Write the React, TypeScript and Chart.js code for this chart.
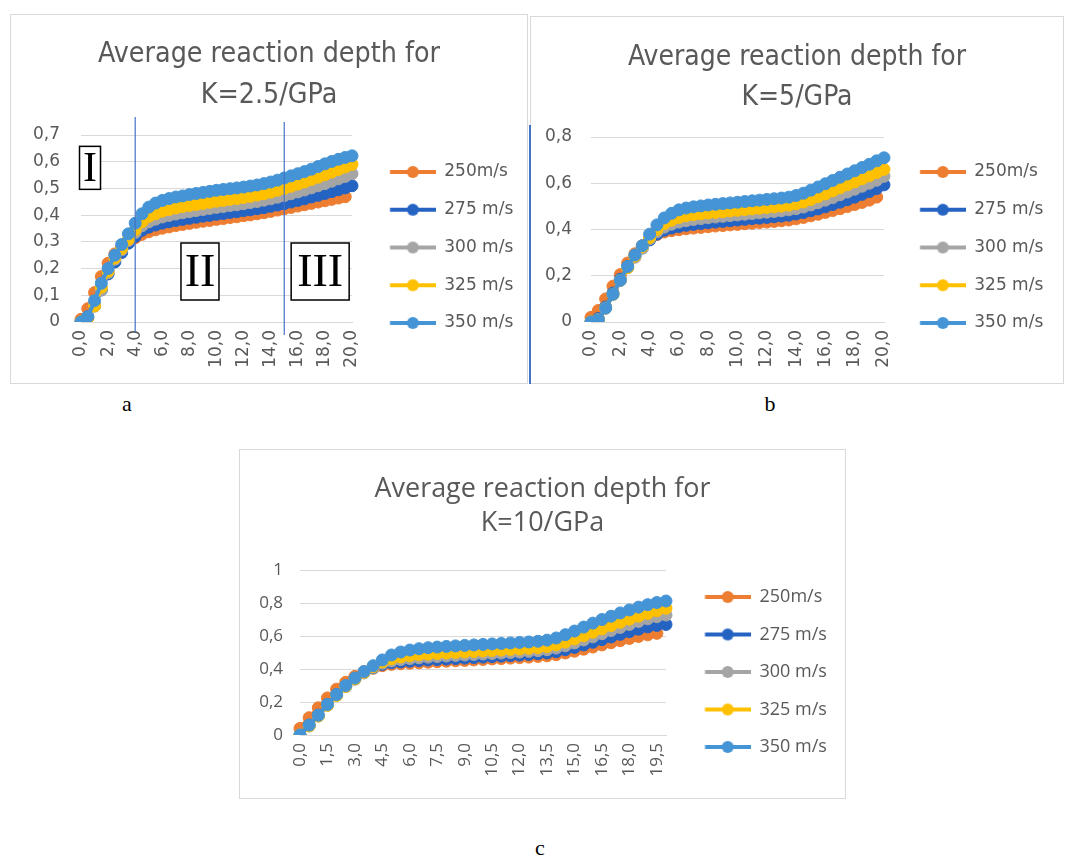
import React, { useEffect, useRef } from 'react';
import { Chart, registerables } from 'chart.js';

Chart.register(...registerables);

// time axis (same categories in all three panels)
const timeLabels = [
  '0,0', '0,5', '1,0', '1,5', '2,0', '2,5', '3,0', '3,5', '4,0', '4,5',
  '5,0', '5,5', '6,0', '6,5', '7,0', '7,5', '8,0', '8,5', '9,0', '9,5',
  '10,0', '10,5', '11,0', '11,5', '12,0', '12,5', '13,0', '13,5', '14,0', '14,5',
  '15,0', '15,5', '16,0', '16,5', '17,0', '17,5', '18,0', '18,5', '19,0', '19,5', '20,0',
];
const seriesNames = ['250m/s', '275 m/s', '300 m/s', '325 m/s', '350 m/s'];
const seriesColors = ['#ED7D31', '#2563C3', '#A5A5A5', '#FFC000', '#4494D6'];

// K = 2.5/GPa
const k25v250 = [0.01, 0.05, 0.11, 0.17, 0.22, 0.255, 0.28, 0.3, 0.315, 0.328, 0.338, 0.345, 0.351, 0.356, 0.361, 0.365, 0.369, 0.373, 0.377, 0.38, 0.384, 0.387, 0.391, 0.394, 0.398, 0.401, 0.405, 0.409, 0.414, 0.419, 0.424, 0.429, 0.434, 0.439, 0.444, 0.449, 0.454, 0.459, 0.464, 0.469];
const k25v275 = [0, 0.02, 0.06, 0.12, 0.18, 0.225, 0.26, 0.295, 0.32, 0.343, 0.355, 0.363, 0.37, 0.375, 0.38, 0.384, 0.388, 0.392, 0.396, 0.399, 0.403, 0.406, 0.41, 0.413, 0.417, 0.42, 0.424, 0.428, 0.433, 0.438, 0.443, 0.449, 0.455, 0.461, 0.468, 0.474, 0.481, 0.488, 0.495, 0.502, 0.51];
const k25v300 = [0, 0.015, 0.065, 0.12, 0.185, 0.235, 0.27, 0.305, 0.335, 0.36, 0.375, 0.385, 0.393, 0.399, 0.404, 0.409, 0.413, 0.417, 0.421, 0.425, 0.429, 0.432, 0.436, 0.439, 0.443, 0.447, 0.451, 0.456, 0.461, 0.467, 0.473, 0.48, 0.487, 0.494, 0.502, 0.51, 0.518, 0.527, 0.536, 0.545, 0.555];
const k25v325 = [0, 0.015, 0.06, 0.13, 0.19, 0.24, 0.275, 0.31, 0.345, 0.375, 0.395, 0.405, 0.415, 0.421, 0.427, 0.432, 0.436, 0.44, 0.444, 0.448, 0.452, 0.455, 0.459, 0.462, 0.466, 0.47, 0.475, 0.48, 0.486, 0.493, 0.5, 0.508, 0.516, 0.524, 0.533, 0.542, 0.551, 0.561, 0.571, 0.58, 0.59];
const k25v350 = [0, 0.02, 0.08, 0.145, 0.2, 0.25, 0.29, 0.33, 0.37, 0.405, 0.43, 0.445, 0.455, 0.462, 0.468, 0.472, 0.477, 0.481, 0.485, 0.489, 0.493, 0.496, 0.499, 0.502, 0.505, 0.509, 0.513, 0.518, 0.524, 0.531, 0.539, 0.547, 0.555, 0.563, 0.572, 0.582, 0.592, 0.601, 0.609, 0.616, 0.622];

// K = 5/GPa
const k5v250 = [0.02, 0.05, 0.1, 0.155, 0.205, 0.255, 0.295, 0.33, 0.36, 0.378, 0.389, 0.395, 0.399, 0.403, 0.406, 0.409, 0.412, 0.415, 0.417, 0.42, 0.422, 0.425, 0.427, 0.43, 0.432, 0.435, 0.438, 0.441, 0.446, 0.452, 0.459, 0.466, 0.474, 0.482, 0.49, 0.499, 0.508, 0.517, 0.527, 0.54];
const k5v275 = [0, 0.015, 0.065, 0.125, 0.185, 0.24, 0.285, 0.32, 0.355, 0.38, 0.397, 0.406, 0.413, 0.418, 0.422, 0.426, 0.429, 0.432, 0.435, 0.438, 0.441, 0.444, 0.447, 0.449, 0.452, 0.455, 0.458, 0.462, 0.467, 0.473, 0.481, 0.489, 0.498, 0.508, 0.518, 0.529, 0.54, 0.552, 0.564, 0.577, 0.593];
const k5v300 = [0, 0.01, 0.06, 0.12, 0.18, 0.235, 0.28, 0.32, 0.36, 0.39, 0.41, 0.423, 0.432, 0.438, 0.443, 0.447, 0.451, 0.454, 0.457, 0.46, 0.463, 0.466, 0.469, 0.472, 0.475, 0.478, 0.481, 0.485, 0.49, 0.497, 0.506, 0.516, 0.527, 0.538, 0.55, 0.562, 0.574, 0.587, 0.6, 0.613, 0.63];
const k5v325 = [0, 0.01, 0.06, 0.12, 0.18, 0.235, 0.285, 0.325, 0.365, 0.4, 0.425, 0.44, 0.452, 0.459, 0.464, 0.468, 0.471, 0.474, 0.477, 0.48, 0.483, 0.486, 0.489, 0.492, 0.495, 0.498, 0.501, 0.505, 0.511, 0.519, 0.53, 0.542, 0.554, 0.567, 0.58, 0.593, 0.606, 0.619, 0.632, 0.646, 0.66];
const k5v350 = [0, 0.01, 0.06, 0.12, 0.18, 0.24, 0.29, 0.33, 0.38, 0.42, 0.45, 0.47, 0.485, 0.493, 0.498, 0.502, 0.506, 0.509, 0.512, 0.515, 0.518, 0.521, 0.524, 0.527, 0.53, 0.533, 0.536, 0.54, 0.547, 0.557, 0.57, 0.584, 0.598, 0.612, 0.626, 0.64, 0.654, 0.668, 0.682, 0.697, 0.71];

// K = 10/GPa
const k10v250 = [0.04, 0.105, 0.165, 0.225, 0.278, 0.32, 0.355, 0.383, 0.405, 0.42, 0.428, 0.432, 0.435, 0.438, 0.441, 0.444, 0.447, 0.45, 0.452, 0.455, 0.458, 0.461, 0.463, 0.466, 0.469, 0.472, 0.476, 0.48, 0.487, 0.497, 0.508, 0.52, 0.533, 0.546, 0.559, 0.572, 0.585, 0.597, 0.607, 0.616];
const k10v275 = [0, 0.06, 0.12, 0.185, 0.245, 0.297, 0.34, 0.377, 0.407, 0.428, 0.438, 0.443, 0.447, 0.451, 0.454, 0.457, 0.46, 0.463, 0.466, 0.469, 0.472, 0.475, 0.478, 0.481, 0.484, 0.488, 0.492, 0.497, 0.505, 0.517, 0.531, 0.546, 0.562, 0.578, 0.594, 0.61, 0.626, 0.641, 0.655, 0.664, 0.67];
const k10v300 = [0, 0.055, 0.115, 0.18, 0.24, 0.293, 0.338, 0.377, 0.41, 0.435, 0.449, 0.457, 0.463, 0.468, 0.472, 0.476, 0.479, 0.482, 0.485, 0.488, 0.491, 0.494, 0.497, 0.5, 0.503, 0.507, 0.511, 0.517, 0.527, 0.541, 0.558, 0.576, 0.595, 0.614, 0.633, 0.652, 0.67, 0.688, 0.704, 0.717, 0.727];
const k10v325 = [0, 0.055, 0.115, 0.18, 0.24, 0.295, 0.34, 0.38, 0.415, 0.443, 0.462, 0.473, 0.48, 0.486, 0.49, 0.494, 0.497, 0.5, 0.503, 0.506, 0.509, 0.512, 0.515, 0.518, 0.521, 0.525, 0.529, 0.536, 0.547, 0.563, 0.582, 0.602, 0.623, 0.643, 0.663, 0.683, 0.702, 0.72, 0.737, 0.753, 0.768];
const k10v350 = [0, 0.06, 0.12, 0.185, 0.245, 0.3, 0.345, 0.385, 0.42, 0.455, 0.485, 0.503, 0.515, 0.523, 0.529, 0.533, 0.537, 0.54, 0.543, 0.546, 0.549, 0.552, 0.555, 0.558, 0.561, 0.564, 0.568, 0.575, 0.588, 0.608, 0.63, 0.654, 0.678, 0.7, 0.72, 0.74, 0.758, 0.775, 0.79, 0.803, 0.812];

// stage markers drawn on panel a (category index / y value)
const regionDividers = [
  { at: 8, above: 18, below: 10 },
  { at: 30, above: 13, below: 13 },
];
const regionMarks = [
  { text: 'I', at: 1.33, level: 0.577, w: 21, h: 43, size: 42 },
  { text: 'II', at: 17.56, level: 0.189, w: 38, h: 57, size: 46 },
  { text: 'III', at: 35.3, level: 0.189, w: 58, h: 57, size: 46 },
];

const textColor = '#595959';
const gridColor = '#d9d9d9';
const narrow = '"Liberation Sans Narrow", "DejaVu Sans Condensed", sans-serif';
const plain = '"DejaVu Sans", sans-serif';
const wide = '"Open Sans", "Noto Sans", sans-serif';

type PanelSpec = {
  caption: string;
  frame: number[]; // left, top, width, height (page px)
  plot: number[]; // left, top, right, bottom (page px)
  title: string[];
  titleCenterY: number;
  titleLine: number;
  titleWidth: number;
  titleFamily: string;
  tickFamily: string;
  tickSize: number;
  yLabelRight: number;
  yMax: number;
  yStep: number;
  labelEvery: number;
  legendFirstY: number;
  legendStep: number;
  legendSize: number;
  swatch: number[];
  radius: number;
  lineWidth: number;
  series: number[][];
  regions?: boolean;
};

const panels: PanelSpec[] = [
  {
    caption: 'a', frame: [10, 14, 518, 370], plot: [81, 135, 352, 322],
    title: ['Average reaction depth for', 'K=2.5/GPa'], titleCenterY: 55, titleLine: 41, titleWidth: 342,
    titleFamily: narrow, tickFamily: plain, tickSize: 17, yLabelRight: 60,
    yMax: 0.7, yStep: 0.1, labelEvery: 4,
    legendFirstY: 172, legendStep: 37.75, legendSize: 17, swatch: [390, 436],
    radius: 6, lineWidth: 4,
    series: [k25v250, k25v275, k25v300, k25v325, k25v350], regions: true,
  },
  {
    caption: 'b', frame: [530, 16, 534, 368], plot: [591, 137, 884, 322],
    title: ['Average reaction depth for', 'K=5/GPa'], titleCenterY: 58, titleLine: 40, titleWidth: 338,
    titleFamily: narrow, tickFamily: plain, tickSize: 17, yLabelRight: 572,
    yMax: 0.8, yStep: 0.2, labelEvery: 4,
    legendFirstY: 172, legendStep: 37.75, legendSize: 17, swatch: [920, 966],
    radius: 6, lineWidth: 4,
    series: [k5v250, k5v275, k5v300, k5v325, k5v350],
  },
  {
    caption: 'c', frame: [239, 449, 607, 350], plot: [300, 570, 666, 735],
    title: ['Average reaction depth for', 'K=10/GPa'], titleCenterY: 489, titleLine: 34, titleWidth: 336,
    titleFamily: wide, tickFamily: wide, tickSize: 17, yLabelRight: 283,
    yMax: 1, yStep: 0.2, labelEvery: 3,
    legendFirstY: 597, legendStep: 37.5, legendSize: 18, swatch: [705, 750],
    radius: 6, lineWidth: 4,
    series: [k10v250, k10v275, k10v300, k10v325, k10v350],
  },
];

const formatTick = (v: number | string) => {
  const n = Number(v);
  return Number.isInteger(n) ? String(n) : n.toFixed(1).replace('.', ',');
};

function makeSwatch(color: string, width: number, start: number, radius: number, lineWidth: number) {
  const c = document.createElement('canvas');
  c.width = width;
  c.height = 16;
  const g = c.getContext('2d')!;
  g.strokeStyle = color;
  g.lineWidth = lineWidth;
  g.beginPath();
  g.moveTo(start, 8);
  g.lineTo(width, 8);
  g.stroke();
  g.fillStyle = color;
  g.beginPath();
  g.arc((start + width) / 2, 8, radius, 0, Math.PI * 2);
  g.fill();
  return c;
}

const regionPlugin = {
  id: 'regions',
  afterDatasetsDraw(chart: any) {
    const { ctx, chartArea, scales } = chart;
    const x = scales.x;
    const y = scales.y;
    ctx.save();
    ctx.strokeStyle = '#4472C4';
    ctx.lineWidth = 1.2;
    regionDividers.forEach((d) => {
      const px = x.getPixelForValue(d.at);
      ctx.beginPath();
      ctx.moveTo(px, chartArea.top - d.above);
      ctx.lineTo(px, chartArea.bottom + d.below);
      ctx.stroke();
    });
    regionMarks.forEach((m) => {
      const cx = x.getPixelForValue(m.at);
      const cy = y.getPixelForValue(m.level);
      ctx.fillStyle = '#fff';
      ctx.fillRect(cx - m.w / 2, cy - m.h / 2, m.w, m.h);
      ctx.strokeStyle = '#000';
      ctx.lineWidth = 1.5;
      ctx.strokeRect(cx - m.w / 2, cy - m.h / 2, m.w, m.h);
      ctx.fillStyle = '#000';
      ctx.font = `${m.size}px "Liberation Serif", "DejaVu Serif", serif`;
      ctx.textAlign = 'center';
      ctx.textBaseline = 'middle';
      ctx.fillText(m.text, cx, cy + 2);
    });
    ctx.restore();
  },
};

function Panel({ spec }: { spec: PanelSpec }) {
  const canvasRef = useRef<HTMLCanvasElement>(null);
  const [fl, ft, fw, fh] = spec.frame;
  const cw = fw - 2;
  const ch = fh - 2;

  useEffect(() => {
    const canvas = canvasRef.current;
    if (!canvas) return;
    const ox = fl + 1;
    const oy = ft + 1;
    const left = spec.plot[0] - ox;
    const top = spec.plot[1] - oy;
    const right = spec.plot[2] - ox;
    const bottom = spec.plot[3] - oy;

    const fs = spec.legendSize;
    const gap = spec.legendStep - fs;
    const itemX = right + gap;
    const swStart = spec.swatch[0] - ox - itemX;
    const swWidth = Math.round(spec.swatch[1] - ox - itemX);

    const measure = document.createElement('canvas').getContext('2d')!;
    measure.font = `${fs}px ${spec.tickFamily}`;
    const textW = Math.max(...seriesNames.map((n) => measure.measureText(n).width));
    // equal side padding keeps the title centred on the frame
    const side = cw - right - (gap + swWidth + fs / 2 + textW + 10);
    measure.font = `100px ${spec.titleFamily}`;
    const titleSize = (100 * spec.titleWidth) / measure.measureText(spec.title[0]).width;
    const titlePadTop = spec.titleCenterY - oy - spec.titleLine / 2;
    const titlePadBottom = top - titlePadTop - spec.titleLine * spec.title.length;
    const legendSpacer = spec.legendFirstY - oy - gap - fs / 2;

    const swatches = seriesColors.map((c) => makeSwatch(c, swWidth, swStart, spec.radius, spec.lineWidth));
    const tickFont = { family: spec.tickFamily, size: spec.tickSize };

    const chart = new Chart(canvas, {
      type: 'line',
      data: {
        labels: timeLabels,
        datasets: spec.series.map((data, i) => ({
          label: seriesNames[i],
          data,
          borderColor: seriesColors[i],
          backgroundColor: seriesColors[i],
          borderWidth: spec.lineWidth,
          pointRadius: spec.radius,
          pointBorderWidth: 1,
          pointBackgroundColor: seriesColors[i],
          pointBorderColor: seriesColors[i],
          tension: 0,
          order: seriesNames.length - i,
        })),
      },
      options: {
        responsive: false,
        animation: false,
        layout: { padding: { left: side, right: side, top: 0, bottom: 0 } },
        plugins: {
          title: {
            display: true,
            text: spec.title,
            color: textColor,
            font: { family: spec.titleFamily, size: titleSize, weight: 'normal', lineHeight: `${spec.titleLine}px` },
            padding: { top: titlePadTop, bottom: titlePadBottom },
          },
          legend: {
            position: 'right',
            align: 'start',
            maxWidth: 400,
            title: { display: true, text: ' ', font: { size: 1, lineHeight: 1 }, padding: { top: legendSpacer - 1, bottom: 0 } },
            labels: {
              usePointStyle: true,
              pointStyleWidth: swWidth,
              padding: gap,
              color: textColor,
              font: { family: spec.tickFamily, size: fs },
              sort: (a: any, b: any) => a.datasetIndex - b.datasetIndex,
              generateLabels: (c: any) =>
                Chart.defaults.plugins.legend.labels
                  .generateLabels(c)
                  .map((item: any) => ({ ...item, pointStyle: swatches[item.datasetIndex] })),
            },
          },
          tooltip: { enabled: false },
        },
        scales: {
          x: {
            grid: { display: false, drawTicks: false },
            border: { display: true, color: gridColor, width: 1 },
            ticks: {
              autoSkip: false,
              minRotation: 90,
              maxRotation: 90,
              padding: 8,
              color: textColor,
              font: tickFont,
              callback: (_v: any, i: number) => (i % spec.labelEvery === 0 ? timeLabels[i] : null),
            },
            afterFit: (s: any) => {
              s.height = ch - bottom;
            },
          },
          y: {
            min: 0,
            max: spec.yMax,
            grid: { color: gridColor, drawTicks: false },
            border: { display: false },
            ticks: {
              stepSize: spec.yStep,
              padding: left - (spec.yLabelRight - ox),
              color: textColor,
              font: tickFont,
              callback: (v: any) => formatTick(v),
            },
            afterFit: (s: any) => {
              s.width = left - side;
            },
          },
        },
      } as any,
      plugins: spec.regions ? [regionPlugin] : [],
    });

    return () => {
      chart.destroy();
    };
  }, [spec]);

  return (
    <div
      style={{
        position: 'absolute', left: fl, top: ft, width: fw, height: fh,
        boxSizing: 'border-box', border: `1px solid ${gridColor}`, background: '#fff',
      }}
    >
      <canvas ref={canvasRef} width={cw} height={ch} style={{ display: 'block', width: cw, height: ch }} />
    </div>
  );
}

const captionPos: Record<string, number[]> = { a: [127, 404], b: [770, 404], c: [540, 848] };

export default function App() {
  return (
    <div style={{ position: 'absolute', left: 0, top: 0, width: 1080, height: 863, background: '#fff', overflow: 'hidden' }}>
      {panels.map((p) => (
        <Panel key={p.caption} spec={p} />
      ))}
      <div style={{ position: 'absolute', left: 529, top: 125, width: 1.5, height: 259, background: '#4472C4' }} />
      {panels.map((p) => (
        <div
          key={'cap' + p.caption}
          style={{
            position: 'absolute', left: captionPos[p.caption][0] - 20, top: captionPos[p.caption][1] - 14,
            width: 40, height: 28, lineHeight: '28px', textAlign: 'center',
            fontFamily: '"Liberation Serif", serif', fontSize: 22, color: '#000',
          }}
        >
          {p.caption}
        </div>
      ))}
    </div>
  );
}
